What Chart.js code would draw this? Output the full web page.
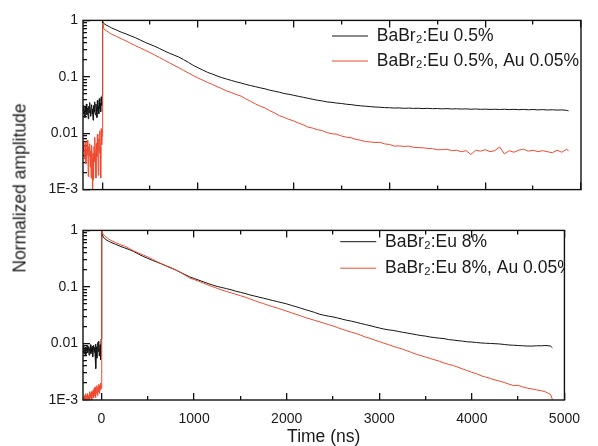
<!DOCTYPE html>
<html><head><meta charset="utf-8">
<script src="https://cdn.jsdelivr.net/npm/chart.js@4.4.1/dist/chart.umd.min.js"></script>
<style>
html,body{margin:0;padding:0;background:#fff;}
#wrap{position:relative;width:598px;height:446px;overflow:hidden;background:#fff;}
#c1{position:absolute;left:0;top:0;}
#c2{position:absolute;left:0;top:210px;}
#ylab{position:absolute;left:20px;top:188px;transform:translate(-50%,-50%) rotate(-90deg);font:17.5px "Liberation Sans",Arial,sans-serif;white-space:nowrap;color:#1a1a1a;}
</style></head>
<body>
<div id="wrap">
<canvas id="c1" width="598" height="210"></canvas>
<canvas id="c2" width="598" height="236"></canvas>
<div id="ylab">Normalized amplitude</div>
</div>
<script>
// ---------- data ----------
const xTitle = 'Time (ns)';
const yTitle = 'Normalized amplitude';
const xMajorTicks = [0, 1000, 2000, 3000, 4000, 5000];
const xTickLabels = ['0', '1000', '2000', '3000', '4000', '5000'];
const xMinorTicks = [500, 1500, 2500, 3500, 4500];
const yMajorTicks = [0.001, 0.01, 0.1, 1];
const yTickLabels = ['1E-3', '0.01', '0.1', '1'];
const yMinorMultipliers = [2, 3, 4, 5, 6, 7, 8, 9];

const seriesNames = ['BaBr\u2082:Eu 0.5%', 'BaBr\u2082:Eu 0.5%, Au 0.05%', 'BaBr\u2082:Eu 8%', 'BaBr\u2082:Eu 8%, Au 0.05%'];

// time before excitation (ns)
const preTime = [-200,-195,-190,-185,-180,-175,-170,-165,-160,-155,
  -150,-145,-140,-135,-130,-125,-120,-115,-110,-105,
  -100,-95,-90,-85,-80,-75,-70,-65,-60,-55,
  -50,-45,-40,-35,-30,-25,-20,-15,-10,-5,
  0];
// time after excitation (ns)
const decayTime = [5,15,30,50,75,
  100,150,200,250,300,350,400,450,500,550,
  600,650,700,750,800,850,900,950,1000,1050,
  1100,1150,1200,1250,1300,1350,1400,1450,1500,1550,
  1600,1650,1700,1750,1800,1850,1900,1950,2000,2050,
  2100,2150,2200,2250,2300,2350,2400,2450,2500,2550,
  2600,2650,2700,2750,2800,2850,2900,2950,3000,3050,
  3100,3150,3200,3250,3300,3350,3400,3450,3500,3550,
  3600,3650,3700,3750,3800,3850,3900,3950,4000,4050,
  4100,4150,4200,4250,4300,4350,4400,4450,4500,4550,
  4600,4650,4700,4750,4800,4850,
  4870];

// top panel: BaBr2:Eu 0.5%
const eu05Pre = [0.027,0.022,0.031,0.025,0.019,0.029,0.024,0.033,0.021,0.028,
  0.026,0.018,0.030,0.023,0.035,0.025,0.020,0.029,0.032,0.022,
  0.027,0.017,0.031,0.026,0.036,0.024,0.021,0.033,0.028,0.019,
  0.038,0.025,0.030,0.022,0.041,0.027,0.034,0.024,0.044,0.031,
  0.047];
const eu05Decay = [0.933,0.891,0.851,0.813,0.776,
  0.733,0.676,0.617,0.575,0.531,0.490,0.447,0.407,0.376,0.347,
  0.316,0.288,0.263,0.243,0.224,0.202,0.180,0.160,0.145,0.132,
  0.120,0.112,0.1035,0.0966,0.0912,0.0861,0.0813,0.0776,0.0733,0.0700,
  0.0668,0.0638,0.0612,0.0579,0.0556,0.0533,0.0505,0.0490,0.0470,0.0450,
  0.0433,0.0416,0.0399,0.0384,0.0373,0.0358,0.0352,0.0342,0.0336,0.0326,
  0.0321,0.0312,0.0306,0.0301,0.0296,0.0291,0.0289,0.0284,0.0283,0.0279,
  0.0281,0.0276,0.0279,0.0275,0.0277,0.0273,0.0276,0.0272,0.0274,0.0270,
  0.0273,0.0269,0.0271,0.0268,0.0270,0.0266,0.0269,0.0265,0.0267,0.0264,
  0.0266,0.0263,0.0266,0.0262,0.0265,0.0261,0.0264,0.0260,0.0263,0.0259,
  0.0262,0.0258,0.0260,0.0257,0.0259,0.0254,
  0.0249];

// top panel: BaBr2:Eu 0.5%, Au 0.05%
const eu05AuPre = [0.0062,0.0048,0.0071,0.0035,0.0055,0.0068,0.0029,0.0052,0.0041,0.0075,
  0.0047,0.0017,0.0058,0.0039,0.0065,0.0025,0.0049,0.0016,0.0061,0.0036,
  0.0007,0.0044,0.0015,0.0058,0.0031,0.0085,0.0042,0.0016,0.0066,0.0038,
  0.0095,0.0051,0.0018,0.0078,0.0045,0.0110,0.0058,0.0016,0.0120,0.0062,
  0.0090];
const eu05AuDecay = [0.90,0.724,0.676,0.646,0.603,
  0.569,0.519,0.473,0.432,0.389,0.355,0.324,0.295,0.269,0.243,
  0.219,0.197,0.178,0.160,0.145,0.130,0.117,0.105,0.0955,0.0871,
  0.0794,0.0735,0.0668,0.0617,0.0560,0.0525,0.0484,0.0455,0.0407,0.0367,
  0.0331,0.0302,0.0280,0.0251,0.0229,0.0205,0.0191,0.0176,0.0165,0.0151,
  0.0141,0.0128,0.0123,0.0115,0.0111,0.0102,0.00977,0.0096,0.00891,0.00851,
  0.0083,0.00776,0.0075,0.0071,0.0070,0.00684,0.0069,0.00646,0.00631,0.0059,
  0.00596,0.00582,0.0059,0.00562,0.00556,0.0055,0.00537,0.00531,0.0051,0.0051,
  0.0052,0.0049,0.0050,0.0047,0.0049,0.0042,0.0050,0.0048,0.0051,0.0047,
  0.0049,0.0057,0.0043,0.0049,0.0046,0.0050,0.0052,0.0048,0.0050,0.0047,
  0.0049,0.0047,0.0045,0.0050,0.0046,0.0052,
  0.0049];

// bottom panel: BaBr2:Eu 8%
const eu8Pre = [0.0082,0.0071,0.0090,0.0065,0.0078,0.0086,0.0060,0.0083,0.0074,0.0092,
  0.0068,0.0079,0.0088,0.0062,0.0081,0.0075,0.0095,0.0066,0.0084,0.0072,
  0.0089,0.0058,0.0080,0.0093,0.0070,0.0085,0.0064,0.0098,0.0036,0.0087,
  0.0055,0.0091,0.0104,0.0072,0.0110,0.0060,0.0068,0.0095,0.0052,0.0120,
  0.0128];
const eu8Decay = [0.871,0.794,0.724,0.684,0.646,
  0.617,0.569,0.525,0.490,0.457,0.422,0.380,0.347,0.320,0.295,
  0.275,0.254,0.234,0.216,0.200,0.182,0.166,0.151,0.141,0.132,
  0.123,0.115,0.108,0.102,0.0977,0.0933,0.0891,0.0841,0.0804,0.0767,
  0.0724,0.0692,0.0661,0.0631,0.0603,0.0575,0.0550,0.0525,0.0501,0.0473,
  0.0447,0.0422,0.0398,0.0376,0.0355,0.0331,0.0316,0.0305,0.0295,0.0282,
  0.0269,0.0257,0.0248,0.0237,0.0226,0.0216,0.0207,0.0197,0.0188,0.0180,
  0.0174,0.0170,0.0164,0.0158,0.0153,0.0148,0.0143,0.0138,0.0135,0.0130,
  0.0127,0.0124,0.0122,0.0117,0.0115,0.0112,0.0110,0.0107,0.0106,0.0104,
  0.0102,0.0101,0.0100,0.0099,0.0098,0.0096,0.0094,0.0093,0.0092,0.0091,
  0.0090,0.0090,0.0091,0.0091,0.0092,0.0090,
  0.0084];

// bottom panel: BaBr2:Eu 8%, Au 0.05%
const eu8AuPre = [0.0008,0.0011,0.0007,0.0012,0.0009,0.0011,0.0013,0.0008,0.0012,0.0010,
  0.0013,0.0009,0.0012,0.0010,0.0014,0.0009,0.0013,0.0011,0.0014,0.0010,
  0.0014,0.0012,0.0015,0.0011,0.0016,0.0012,0.0017,0.0011,0.0016,0.0013,
  0.0018,0.0012,0.0017,0.0014,0.0019,0.0013,0.0018,0.0015,0.0020,0.0016,
  0.0019];
const eu8AuDecay = [1.0,0.871,0.813,0.759,0.708,
  0.668,0.610,0.562,0.525,0.479,0.432,0.398,0.367,0.339,0.309,
  0.279,0.257,0.237,0.219,0.200,0.182,0.162,0.145,0.135,0.126,
  0.117,0.108,0.101,0.0944,0.0881,0.0832,0.0785,0.0741,0.0700,0.0661,
  0.0617,0.0575,0.0537,0.0507,0.0473,0.0447,0.0422,0.0398,0.0372,0.0351,
  0.0327,0.0309,0.0288,0.0272,0.0257,0.0243,0.0229,0.0216,0.0204,0.0191,
  0.0178,0.0168,0.0158,0.0150,0.0140,0.0130,0.0123,0.0115,0.0108,0.0101,
  0.00955,0.00891,0.00841,0.00794,0.00741,0.00692,0.00646,0.0061,0.00575,0.00543,
  0.00513,0.00484,0.00452,0.00427,0.00407,0.0038,0.00355,0.00331,0.00309,0.00292,
  0.00269,0.00254,0.0024,0.00226,0.00216,0.00204,0.00191,0.0018,0.00182,0.0017,
  0.00162,0.00157,0.00151,0.00146,0.00138,0.00126,
  0.00102];

// ---------- rendering ----------
const FONT = '"Liberation Sans", Arial, Helvetica, sans-serif';
const TXT = '#1a1a1a';
const BLACK = '#141414';
const RED = '#ef4a2f';
const X_MIN = -200, X_MAX = 5000;
const yMinorTicks = [];
yMajorTicks.slice(0, -1).forEach(d => yMinorMultipliers.forEach(m => yMinorTicks.push(d * m)));

function points(pre, decay) {
  const out = preTime.map((t, i) => ({x: t, y: pre[i]}));
  return out.concat(decayTime.map((t, i) => ({x: t, y: decay[i]})));
}

// inward tick marks drawn by Chart.js itself (negative tick length)
const gridMajor = {display: true, drawOnChartArea: false, drawTicks: true, tickLength: -7, color: '#111111', lineWidth: 1.3};
const gridMinor = {display: true, drawOnChartArea: false, drawTicks: true, tickLength: -4, color: '#111111', lineWidth: 1.3};

function helperX(position, vals, grid) {
  return {
    type: 'linear', display: true, position: position, min: X_MIN, max: X_MAX, weight: 0,
    grid: grid, border: {display: false}, ticks: {display: false},
    afterBuildTicks: s => { s.ticks = vals.map(v => ({value: v})); },
    afterFit: s => { s.height = 0; }
  };
}
function helperY(vals, grid) {
  return {
    type: 'logarithmic', display: true, position: 'left', min: 0.001, max: 1, weight: 0,
    grid: grid, border: {display: false}, ticks: {display: false},
    afterBuildTicks: s => { s.ticks = vals.map(v => ({value: v})); },
    afterFit: s => { s.width = 0; }
  };
}

// frame round the plot area
const frame = {
  id: 'frame',
  afterDraw(chart) {
    const ctx = chart.ctx;
    const a = chart.chartArea;
    ctx.save();
    ctx.strokeStyle = '#111111';
    ctx.lineWidth = 1.4;
    ctx.strokeRect(a.left, a.top, a.right - a.left, a.bottom - a.top);
    ctx.restore();
  }
};

const legendPlace = {
  id: 'legendPlace',
  afterLayout(chart, args, opts) {
    const lg = chart.legend;
    if (lg) { lg.left = opts.left; lg.top = opts.top; }
  }
};

function makePanel(canvas, sets, cfg) {
  return new Chart(canvas, {
    type: 'line',
    data: {
      datasets: sets.map(s => ({
        label: s.label, data: s.data, borderColor: s.color, backgroundColor: s.color,
        borderWidth: 1, pointRadius: 0, tension: 0, fill: false, order: s.order,
        xAxisID: 'x', yAxisID: 'y'
      }))
    },
    options: {
      responsive: false, animation: false, devicePixelRatio: 1,
      layout: {padding: {left: 0, right: 17, top: cfg.padTop, bottom: 0}},
      plugins: {
        tooltip: {enabled: false},
        legend: {
          display: true, position: 'chartArea', align: 'start',
          labels: {
            usePointStyle: true, pointStyle: 'line', pointStyleWidth: 36, boxWidth: 36,
            padding: cfg.legendPad, color: TXT, font: {family: FONT, size: 17.5, lineHeight: 1},
            sort: (a, b) => a.datasetIndex - b.datasetIndex
          }
        },
        legendPlace: {left: cfg.legendLeft, top: cfg.legendTop}
      },
      scales: {
        x: {
          type: 'linear', display: true, position: 'bottom', min: X_MIN, max: X_MAX, weight: 1,
          grid: gridMajor, border: {display: false},
          ticks: {display: cfg.showX, color: TXT, font: {family: FONT, size: 14}, padding: 18, maxRotation: 0,
            callback: v => { const i = xMajorTicks.indexOf(v); return i >= 0 ? xTickLabels[i] : ''; }},
          afterBuildTicks: s => { s.ticks = xMajorTicks.map(v => ({value: v})); },
          afterFit: s => { s.height = cfg.xHeight; },
          title: {display: cfg.showX, text: xTitle, color: TXT, font: {family: FONT, size: 17.5, lineHeight: 1}, padding: {top: 0, bottom: 0}}
        },
        xMinor: helperX('bottom', xMinorTicks, gridMinor),
        xTop: helperX('top', xMajorTicks, gridMajor),
        xTopMinor: helperX('top', xMinorTicks, gridMinor),
        y: {
          type: 'logarithmic', display: true, position: 'left', min: 0.001, max: 1, weight: 1,
          grid: gridMajor, border: {display: false},
          ticks: {color: TXT, font: {family: FONT, size: 14}, padding: 12,
            callback: v => { const i = yMajorTicks.indexOf(v); return i >= 0 ? yTickLabels[i] : ''; }},
          afterBuildTicks: s => { s.ticks = yMajorTicks.map(v => ({value: v})); },
          afterFit: s => { s.width = 83; }
        },
        yMinor: helperY(yMinorTicks, gridMinor)
      }
    },
    plugins: [frame, legendPlace]
  });
}

makePanel(document.getElementById('c1'), [
  {label: seriesNames[0], data: points(eu05Pre, eu05Decay), color: BLACK, order: 1},
  {label: seriesNames[1], data: points(eu05AuPre, eu05AuDecay), color: RED, order: 0}
], {padTop: 20, xHeight: 14, showX: false, legendPad: 7.5, legendLeft: 324.5, legendTop: 19.75});

makePanel(document.getElementById('c2'), [
  {label: seriesNames[2], data: points(eu8Pre, eu8Decay), color: BLACK, order: 1},
  {label: seriesNames[3], data: points(eu8AuPre, eu8AuDecay), color: RED, order: 0}
], {padTop: 14, xHeight: 46, showX: true, legendPad: 9, legendLeft: 331.25, legendTop: 13.95});
</script>
</body></html>
